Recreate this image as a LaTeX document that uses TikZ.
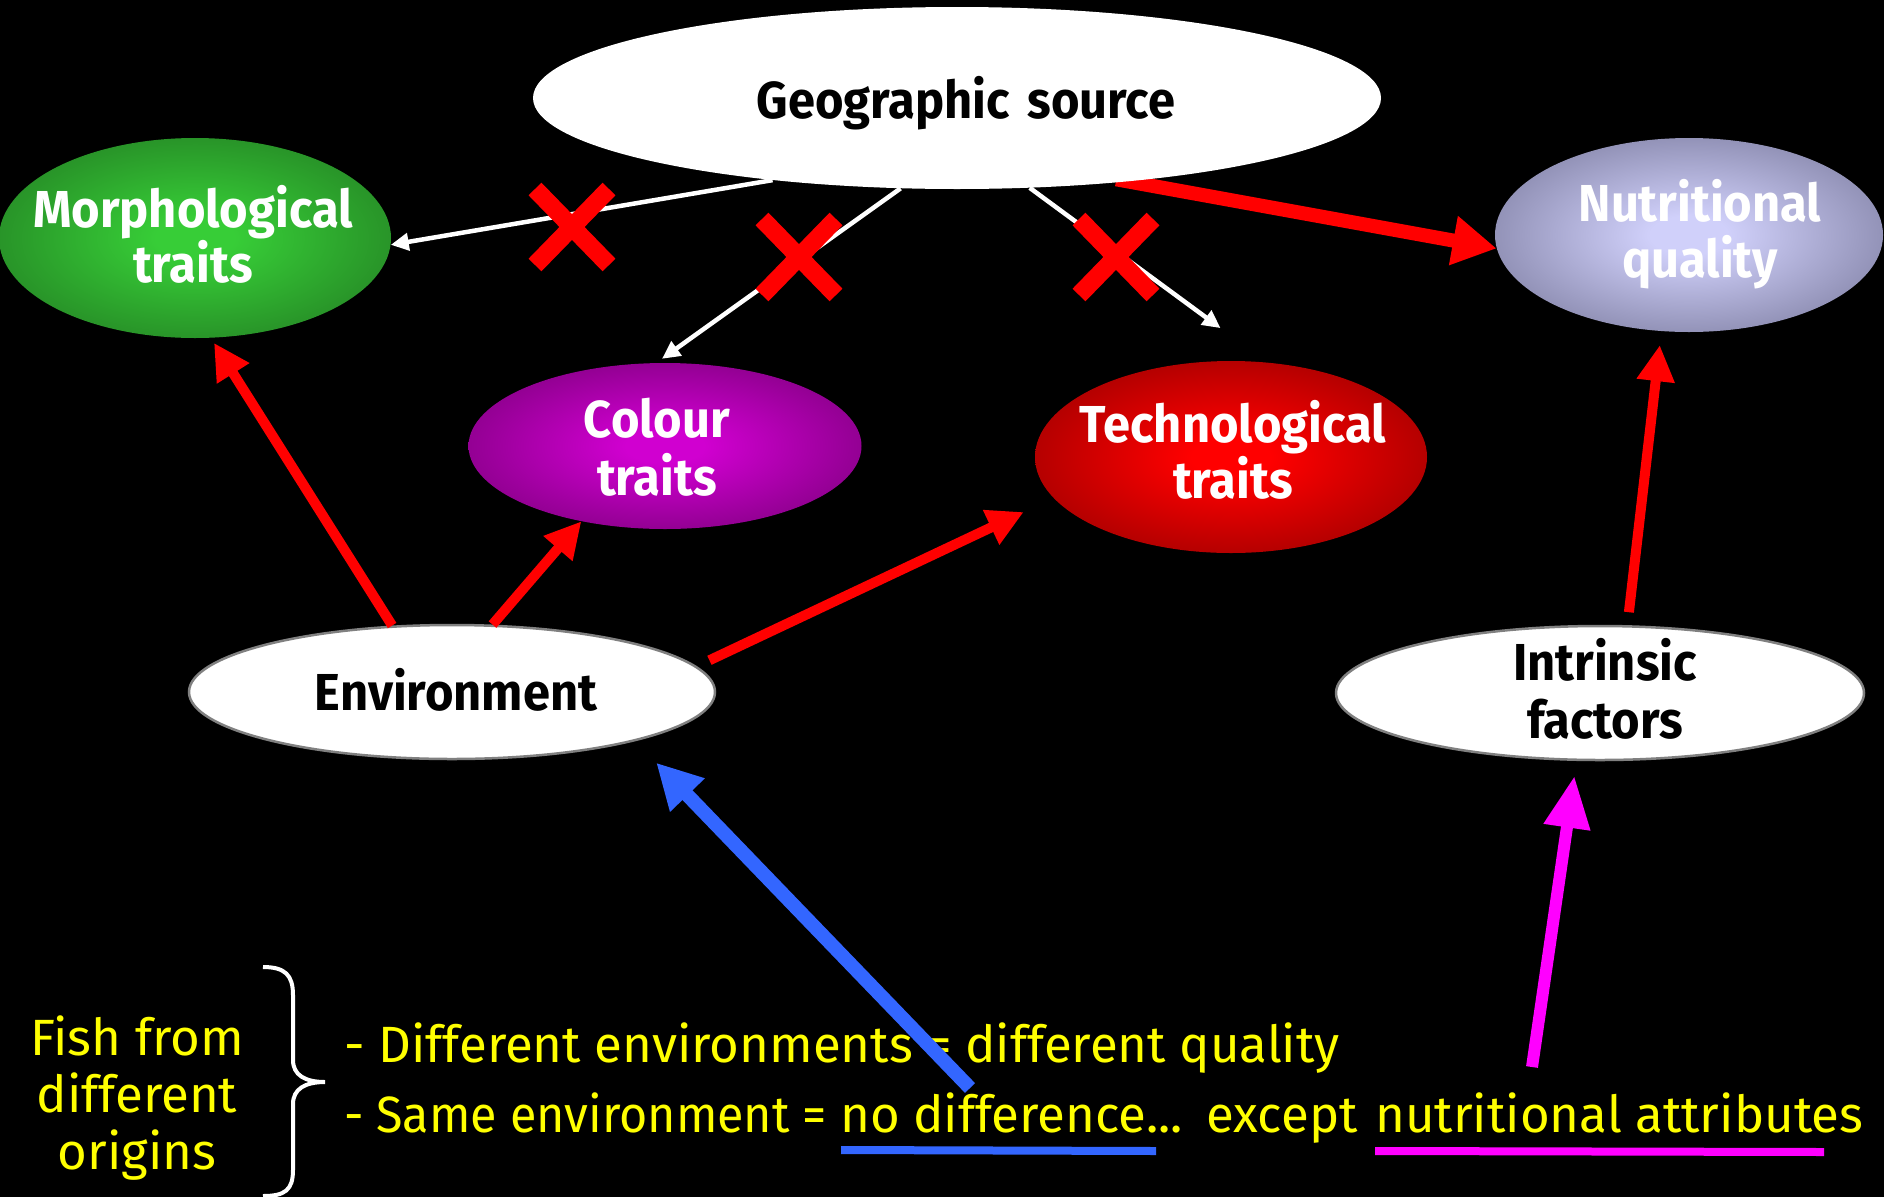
\documentclass[tikz,border=0pt]{standalone}
\usepackage{fontspec}
\setmainfont{Fira Sans}
\newfontfamily\nfont{Fira Sans}[FakeStretch=0.94]
\newfontfamily\yfont{Fira Sans}
\newfontfamily\yfontn{Fira Sans}[FakeStretch=0.95]
\usetikzlibrary{shapes.geometric,arrows.meta}
\definecolor{grIn}{RGB}{55,205,55}
\definecolor{grOut}{RGB}{28,100,28}
\definecolor{nuIn}{RGB}{208,208,250}
\definecolor{nuOut}{RGB}{95,95,128}
\definecolor{coIn}{RGB}{208,0,208}
\definecolor{coOut}{RGB}{96,0,96}
\definecolor{teIn}{RGB}{255,0,0}
\definecolor{teOut}{RGB}{118,0,0}
\definecolor{myblue}{RGB}{51,102,255}
\definecolor{mymag}{RGB}{255,0,255}
\definecolor{myyel}{RGB}{255,255,0}
\pgfdeclareradialshading{grsh}{\pgfpoint{0bp}{0bp}}{color(0bp)=(grIn); color(5bp)=(grIn); color(42bp)=(grOut); color(50bp)=(grOut)}
\pgfdeclareradialshading{nush}{\pgfpoint{0bp}{0bp}}{color(0bp)=(nuIn); color(5bp)=(nuIn); color(42bp)=(nuOut); color(50bp)=(nuOut)}
\pgfdeclareradialshading{cosh}{\pgfpoint{0bp}{0bp}}{color(0bp)=(coIn); color(5bp)=(coIn); color(42bp)=(coOut); color(50bp)=(coOut)}
\pgfdeclareradialshading{tesh}{\pgfpoint{0bp}{0bp}}{color(0bp)=(teIn); color(5bp)=(teIn); color(42bp)=(teOut); color(50bp)=(teOut)}
\pgfdeclarelayer{bg}
\pgfsetlayers{bg,main}
\begin{document}
\begin{tikzpicture}[x=1pt,y=-1pt,
  ell/.style={ellipse, inner sep=0pt},
  whiteell/.style={ell, fill=white},
  ntxt/.style={anchor=base, inner sep=0pt, font=\nfont\bfseries\fontsize{52}{60}\selectfont},
  ytxt/.style={anchor=base west, inner sep=0pt, text=myyel, font=\yfont\fontsize{51}{57}\selectfont},
  ctxt/.style={anchor=base, inner sep=0pt, text=myyel, font=\yfont\fontsize{51}{57}\selectfont},
  redarr/.style={draw=red, line width=10pt, -{Triangle[length=36pt,width=36pt]}},
  whitearr/.style={draw=white, line width=4.5pt, -{Triangle[length=18pt,width=17pt]}},
  xmark/.pic={\draw[red, line width=18pt] (-37,-38) -- (37,38);
              \draw[red, line width=18pt] (37,-38) -- (-37,38);}
]
\begin{pgfonlayer}{bg}
\fill[black] (0,0) rectangle (1884,1197);
\end{pgfonlayer}
\useasboundingbox (0,0) rectangle (1884,1197);

% ellipses
\node[whiteell, minimum width=848pt, minimum height=182pt] (geo) at (957,98) {};
\node[ell, shading=grsh, minimum width=392pt, minimum height=200pt] (morph) at (195,238) {};
\node[ell, shading=nush, minimum width=388pt, minimum height=194pt] (nutr) at (1689,235) {};
\node[ell, shading=cosh, minimum width=393pt, minimum height=166pt] (colour) at (665,446) {};
\node[ell, shading=tesh, minimum width=392pt, minimum height=192pt] (tech) at (1231,457) {};
\node[whiteell, draw=gray, line width=2.5pt, minimum width=526pt, minimum height=134pt] (env) at (452,692) {};
\node[whiteell, draw=gray, line width=2.5pt, minimum width=528pt, minimum height=134pt] (intr) at (1600,693) {};

% node texts
\node[ntxt, text=black] (geo-t) at (966,118) {Geographic\hspace{6pt} source};
\node[ntxt, text=white] (morph-t1) at (193,227) {Morphological};
\node[ntxt, text=white] (morph-t2) at (193,282) {traits};
\node[ntxt, text=white] (nutr-t1) at (1700,221) {Nutritional};
\node[ntxt, text=white] (nutr-t2) at (1700,277) {quality};
\node[ntxt, text=white] (colour-t1) at (657,437) {Colour};
\node[ntxt, text=white] (colour-t2) at (657,495) {traits};
\node[ntxt, text=white] (tech-t1) at (1233,442) {Technological};
\node[ntxt, text=white] (tech-t2) at (1233,498) {traits};
\node[ntxt, text=black] (env-t) at (456,710) {Environment};
\node[ntxt, text=black] (intr-t1) at (1605,680) {Intrinsic};
\node[ntxt, text=black] (intr-t2) at (1605,738) {factors};

% red thick arrow behind geographic source
\begin{pgfonlayer}{bg}
\draw[draw=red, line width=14pt, -{Triangle[length=44pt,width=47pt]}, shorten <=-12pt] (geo.-26.3) -- (nutr.-176.7);
\end{pgfonlayer}

% white arrows
\draw[whitearr] (geo.-156.4) -- (morph.-2.9);
\draw[whitearr, shorten >=7pt] (geo.-122.8) -- (colour.96.2);
\draw[whitearr, shorten >=58pt] (geo.-51.6) -- (tech.69.1);

% crosses
\pic at (572,227) {xmark};
\pic at (799,257) {xmark};
\pic at (1116,257) {xmark};

% red arrows
\draw[redarr, shorten >=6pt] (env.132.5) -- (morph.-81.5);
\draw[redarr] (env.59) -- (colour.222.8);
\draw[redarr, shorten <=14pt, shorten >=33pt] (env.6.5) -- (tech.193.7);
\draw[redarr, shorten <=13pt, shorten >=14pt] (intr.68.7) -- (nutr.-106);

% bottom text
\node[ctxt] (fish1) at (137,1055) {Fish from};
\node[ctxt] (fish2) at (137,1112) {different};
\node[ctxt] (fish3) at (137,1169) {origins};
\draw[white, line width=4pt] (263,967) .. controls (285,967) and (293,975) .. (293,995) -- (293,1060)
  .. controls (293,1075) and (305,1082) .. (325,1082) .. controls (305,1082) and (293,1089) .. (293,1104)
  -- (293,1170) .. controls (293,1190) and (285,1196) .. (263,1196);
\node[ytxt] (line1) at (344,1062) {- Different environments = different quality};
\node[ytxt, font=\yfontn\fontsize{51}{57}\selectfont] (line2a) at (344,1132) {- Same environment =};
\node[ytxt] (line2b) at (840,1132) {no difference...};
\node[ytxt] (line2c) at (1206,1132) {except};
\node[ytxt] (line2d) at (1375,1132) {nutritional attributes};
\draw[myblue, line width=8pt] (841,1150) -- (1156,1151);
\draw[mymag, line width=8pt] (1375,1151) -- (1824,1152);

% blue and magenta arrows
\coordinate (bluestart) at (970,1088);
\coordinate (magstart) at (1532,1067);
\draw[draw=myblue, line width=14pt, -{Triangle[length=45pt,width=45pt]}, shorten >=30pt] (bluestart) -- (env.-15.5);
\draw[draw=mymag, line width=12pt, -{Triangle[length=52pt,width=44pt]}, shorten >=15pt] (magstart) -- (intr.-109.8);
\end{tikzpicture}
\end{document}
